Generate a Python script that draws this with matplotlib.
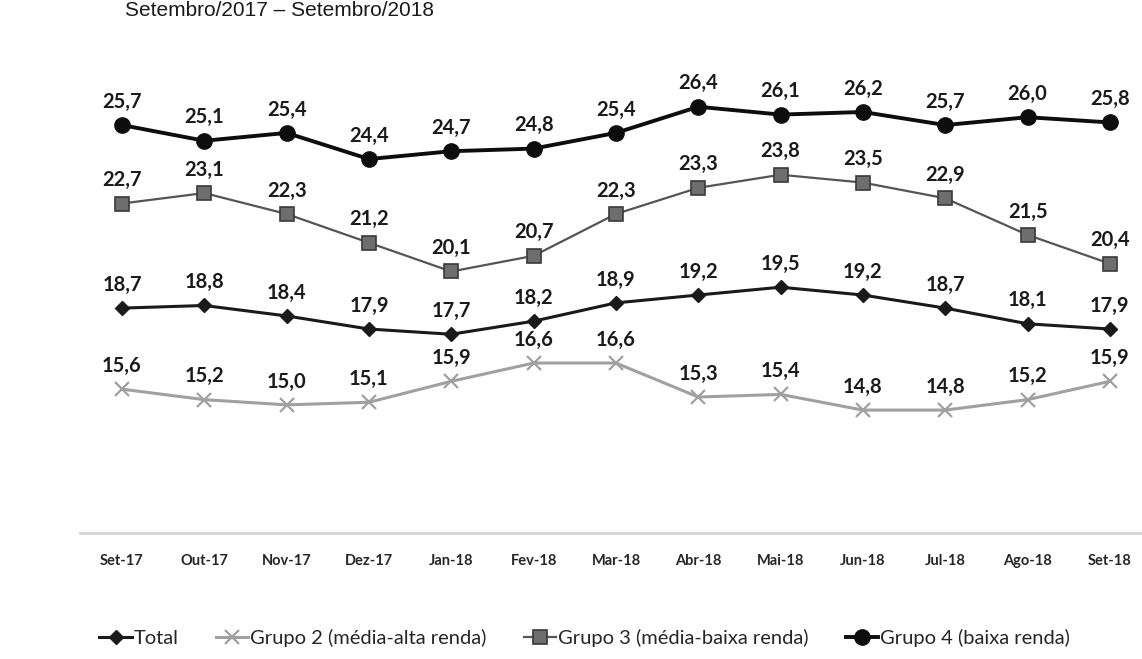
import numpy as np
import matplotlib.pyplot as plt
from matplotlib.lines import Line2D

meses = ['Set-17', 'Out-17', 'Nov-17', 'Dez-17', 'Jan-18', 'Fev-18', 'Mar-18',
         'Abr-18', 'Mai-18', 'Jun-18', 'Jul-18', 'Ago-18', 'Set-18']
total = [18.7, 18.8, 18.4, 17.9, 17.7, 18.2, 18.9, 19.2, 19.5, 19.2, 18.7, 18.1, 17.9]
grupo2 = [15.6, 15.2, 15.0, 15.1, 15.9, 16.6, 16.6, 15.3, 15.4, 14.8, 14.8, 15.2, 15.9]
grupo3 = [22.7, 23.1, 22.3, 21.2, 20.1, 20.7, 22.3, 23.3, 23.8, 23.5, 22.9, 21.5, 20.4]
grupo4 = [25.7, 25.1, 25.4, 24.4, 24.7, 24.8, 25.4, 26.4, 26.1, 26.2, 25.7, 26.0, 25.8]

plt.rcParams['font.family'] = ['Lato', 'DejaVu Sans']

fig = plt.figure(figsize=(11.42, 6.59), dpi=100)
ax = fig.add_axes([80 / 1142, 1 - 533 / 659, 1 - 80 / 1142, (533 - 10) / 659])

x = np.arange(len(meses))

series = [
    (total, 'Total', dict(color='#1a1a1a', lw=2.2, marker='D', ms=7,
                          mfc='#1a1a1a', mec='#1a1a1a')),
    (grupo2, 'Grupo 2 (média-alta renda)', dict(color='#a0a0a0', lw=2.2, marker='x', ms=10,
                                                 mew=1.6, mec='#a0a0a0')),
    (grupo3, 'Grupo 3 (média-baixa renda)', dict(color='#555555', lw=1.6, marker='s', ms=10,
                                                  mfc='#6e6e6e', mec='#3a3a3a', mew=1.2)),
    (grupo4, 'Grupo 4 (baixa renda)', dict(color='#0d0d0d', lw=2.8, marker='o', ms=11,
                                           mfc='#0d0d0d', mec='#0d0d0d')),
]

handles = []
for vals, nome, st in series:
    ax.plot(x, vals, **st, zorder=3)
    handles.append(Line2D([], [], label=nome, **st))
    for xi, v in zip(x, vals):
        ax.annotate(f'{v:.1f}'.replace('.', ','), (xi, v), xytext=(0, 12.5),
                    textcoords='offset points', ha='center', va='baseline',
                    fontsize=14.5, fontweight='bold', color='#1a1a1a')

ax.set_xlim(-0.51, 12.39)
ax.set_ylim(10.1, 30.1)
ax.set_xticks(x)
ax.set_xticklabels(meses, fontsize=10.5, fontweight='bold', color='#262626')
ax.tick_params(axis='x', length=0, pad=15)
ax.set_yticks([])
for s in ['top', 'right', 'left']:
    ax.spines[s].set_visible(False)
ax.spines['bottom'].set_color('#d4d4d4')
ax.spines['bottom'].set_linewidth(2)

fig.legend(handles=handles, loc='center', bbox_to_anchor=(0.512, 1 - 638 / 659), ncol=4,
           frameon=False, fontsize=14.5, handlelength=1.6, handletextpad=0.1,
           columnspacing=1.85, labelcolor='#262626')

fig.text(125 / 1142, 1 - 16 / 659, 'Setembro/2017 – Setembro/2018', fontsize=15,
         family='Liberation Sans', color='#1a1a1a', va='baseline', ha='left')

fig.savefig('out.png', dpi=100, facecolor='white')
